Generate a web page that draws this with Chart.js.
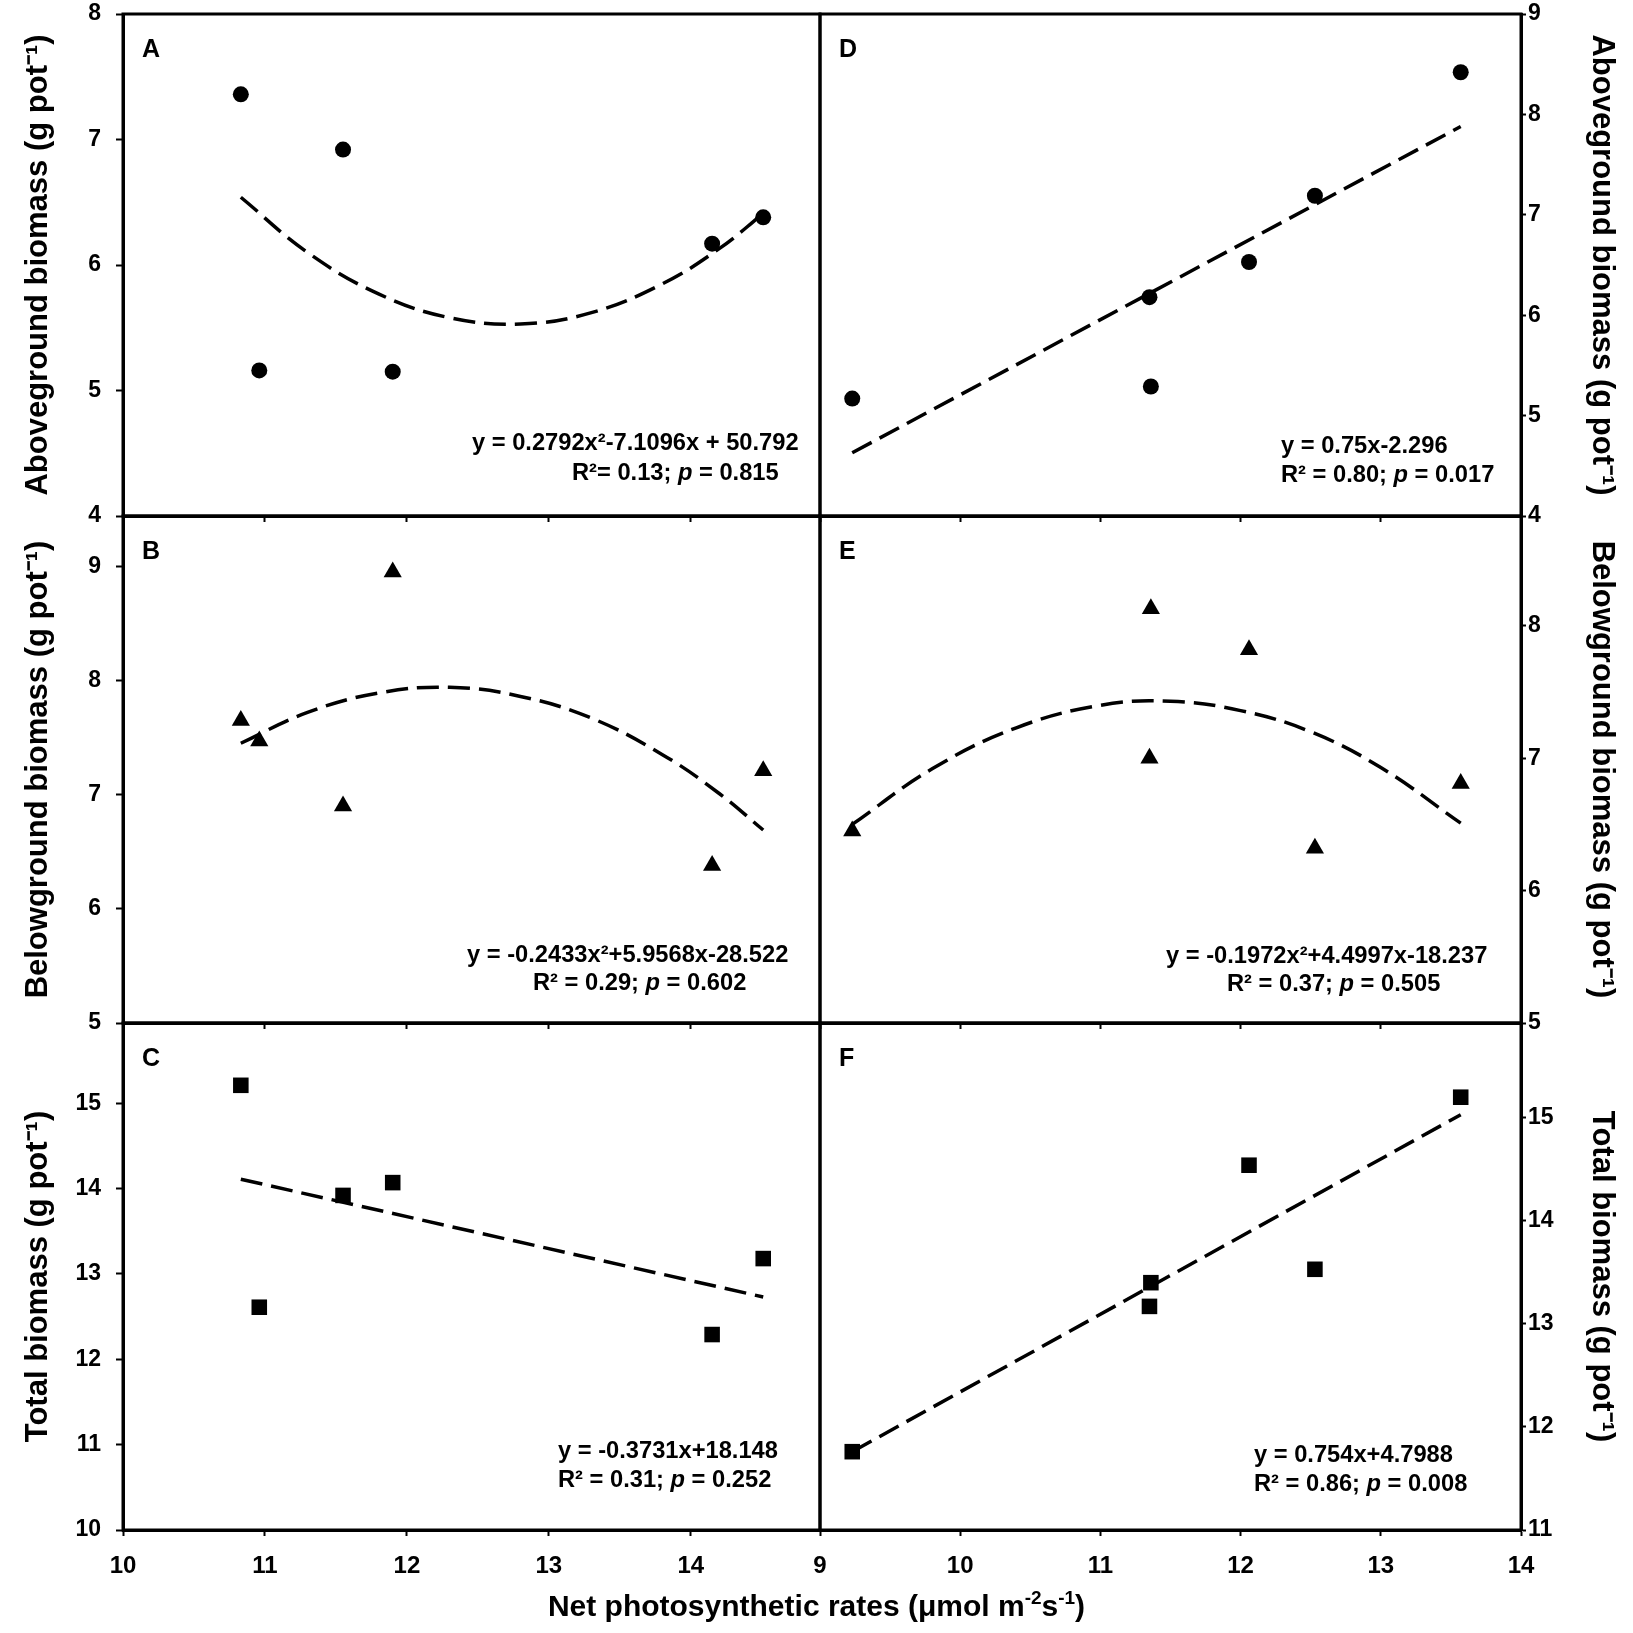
<!DOCTYPE html>
<html>
<head>
<meta charset="utf-8">
<script src="https://cdn.jsdelivr.net/npm/chart.js@4.4.1/dist/chart.umd.min.js"></script>
<style>
html, body { margin: 0; padding: 0; background: #ffffff; }
#wrap { position: relative; width: 1633px; height: 1633px; background: #ffffff; }
#wrap canvas { position: absolute; left: 0; top: 0; }
</style>
</head>
<body>
<div id="wrap">
  <canvas id="cA" width="1633" height="1633"></canvas>
  <canvas id="cB" width="1633" height="1633"></canvas>
  <canvas id="cC" width="1633" height="1633"></canvas>
  <canvas id="cD" width="1633" height="1633"></canvas>
  <canvas id="cE" width="1633" height="1633"></canvas>
  <canvas id="cF" width="1633" height="1633"></canvas>
</div>
<script>
// ---------------- data ----------------
// left column (panels A, B, C): net photosynthetic rate
const xLeft      = [10.83, 10.96, 11.55, 11.90, 14.15, 14.51];
const aboveLeft  = [7.36, 5.16, 6.92, 5.15, 6.17, 6.38];
const belowLeft  = [7.65, 7.47, 6.90, 8.95, 6.38, 7.21];
const totalLeft  = [15.21, 12.61, 13.92, 14.07, 12.29, 13.18];

// right column (panels D, E, F)
const xRight     = [9.23, 11.35, 11.36, 12.06, 12.53, 13.57];
const aboveRight = [5.17, 6.18, 5.29, 6.53, 7.19, 8.42];
const belowRight = [6.45, 7.00, 8.13, 7.82, 6.32, 6.81];
const totalRight = [11.76, 13.17, 13.40, 14.54, 13.53, 15.20];

// dashed regression lines
const fitAX = [10.83, 11.3, 11.8, 12.3, 12.8, 13.3, 13.8, 14.2, 14.51];
const fitAY = [6.54, 6.10, 5.77, 5.58, 5.53, 5.62, 5.85, 6.13, 6.41];
const fitBX = [10.83, 11.3, 11.8, 12.3, 12.8, 13.3, 13.8, 14.2, 14.51];
const fitBY = [7.45, 7.72, 7.89, 7.94, 7.86, 7.67, 7.35, 7.01, 6.69];
const fitCX = [10.83, 14.51];
const fitCY = [14.11, 12.73];
const fitDX = [9.23, 13.57];
const fitDY = [4.63, 7.88];
const fitEX = [9.23, 9.8, 10.4, 11.0, 11.5, 12.0, 12.5, 13.0, 13.57];
const fitEY = [6.50, 6.92, 7.23, 7.40, 7.43, 7.36, 7.20, 6.93, 6.51];
const fitFX = [9.23, 13.57];
const fitFY = [11.76, 15.03];

// axis ranges and tick labels
const xRangeLeft  = [10, 14.91];
const xRangeRight = [9, 14];
const xTicksLeft  = [10, 11, 12, 13, 14];
const xTicksRight = [9, 10, 11, 12, 13, 14];
const yRangeA = [4, 8];      const yTicksA = [4, 5, 6, 7, 8];
const yRangeB = [5, 9.44];   const yTicksB = [5, 6, 7, 8, 9];
const yRangeC = [10, 15.94]; const yTicksC = [10, 11, 12, 13, 14, 15];
const yRangeD = [4, 9];      const yTicksD = [4, 5, 6, 7, 8, 9];
const yRangeE = [5, 8.83];   const yTicksE = [5, 6, 7, 8];
const yRangeF = [11, 15.92]; const yTicksF = [11, 12, 13, 14, 15];

// texts
const titleAbove = 'Aboveground biomass (g pot\u207B\u00B9)';
const titleBelow = 'Belowground biomass (g pot\u207B\u00B9)';
const titleTotal = 'Total biomass (g pot\u207B\u00B9)';
const xTitleParts = ['Net photosynthetic rates (\u03BCmol m', '-2', 's', '-1', ')'];
const eqA = ['y = 0.2792x\u00B2-7.1096x + 50.792', 'R\u00B2= 0.13; ', 'p', ' = 0.815'];
const eqB = ['y = -0.2433x\u00B2+5.9568x-28.522', 'R\u00B2 = 0.29; ', 'p', ' = 0.602'];
const eqC = ['y = -0.3731x+18.148', 'R\u00B2 = 0.31; ', 'p', ' = 0.252'];
const eqD = ['y = 0.75x-2.296', 'R\u00B2 = 0.80; ', 'p', ' = 0.017'];
const eqE = ['y = -0.1972x\u00B2+4.4997x-18.237', 'R\u00B2 = 0.37; ', 'p', ' = 0.505'];
const eqF = ['y = 0.754x+4.7988', 'R\u00B2 = 0.86; ', 'p', ' = 0.008'];

// ---------------- drawing ----------------
const FONT = '"Liberation Sans", Arial, Helvetica, sans-serif';
Chart.defaults.font.family = FONT;
Chart.defaults.color = '#000';

const PAGE = 1633;
const COL_LEFT = 123, COL_MID = 820, COL_RIGHT = 1521;
const ROW_EDGES = [14, 516, 1023, 1530];

const panelText = {
  id: 'panelText',
  afterDatasetsDraw(chart, args, o) {
    const ctx = chart.ctx, a = chart.chartArea;
    ctx.save();
    ctx.lineWidth = 3;
    ctx.strokeStyle = '#000';
    ctx.strokeRect(a.left, a.top, a.right - a.left, a.bottom - a.top);
    ctx.fillStyle = '#000';
    ctx.textAlign = 'left';
    ctx.textBaseline = 'alphabetic';
    ctx.font = 'bold 25px ' + FONT;
    ctx.fillText(o.letter, a.left + 19, a.top + 43);
    // equation line 1
    ctx.font = 'bold 23.7px ' + FONT;
    ctx.fillText(o.eq[0], a.right - o.dx[0], a.bottom - o.dy[0]);
    // equation line 2 (italic p)
    let x = a.right - o.dx[1];
    const y2 = a.bottom - o.dy[1];
    o.eq.slice(1).forEach((t, i) => {
      ctx.font = (i === 1 ? 'italic ' : '') + 'bold 23.7px ' + FONT;
      ctx.fillText(t, x, y2);
      x += ctx.measureText(t).width;
    });
    if (o.xTitle) {
      const big = 'bold 30px ' + FONT, small = 'bold 19px ' + FONT;
      let w = 0;
      xTitleParts.forEach((t, i) => { ctx.font = (i % 2 ? small : big); w += ctx.measureText(t).width; });
      let xx = PAGE / 2 - w / 2;
      const base = 1616;
      xTitleParts.forEach((t, i) => {
        ctx.font = (i % 2 ? small : big);
        ctx.fillText(t, xx, i % 2 ? base - 12 : base);
        xx += ctx.measureText(t).width;
      });
    }
    ctx.restore();
  }
};

function pts(xs, ys) { return xs.map((x, i) => ({ x: x, y: ys[i] })); }
function noPad(s) { s.paddingTop = 0; s.paddingBottom = 0; s.paddingLeft = 0; s.paddingRight = 0; }

function makePanel(id, p) {
  const left = p.side === 'left';
  const bottomRow = p.row === 2;
  const xh = bottomRow ? 80 : 10;
  const top = ROW_EDGES[p.row], bottom = ROW_EDGES[p.row + 1];
  const yWidth = left ? COL_LEFT : PAGE - COL_RIGHT;
  new Chart(document.getElementById(id), {
    type: 'scatter',
    data: {
      datasets: [
        {
          data: pts(p.px, p.py),
          pointStyle: p.marker, pointRadius: p.r, pointHoverRadius: p.r,
          backgroundColor: '#000', borderColor: '#000', borderWidth: 0,
          showLine: false, order: 1
        },
        {
          data: pts(p.fx, p.fy),
          showLine: true, pointRadius: 0, pointHoverRadius: 0,
          borderColor: '#000', borderWidth: 3.5, borderDash: [22, 9],
          tension: p.fx.length > 2 ? 0.4 : 0, fill: false, order: 2
        }
      ]
    },
    options: {
      responsive: false, animation: false, events: [],
      layout: {
        autoPadding: false,
        padding: {
          left: left ? 0 : COL_MID,
          right: left ? PAGE - COL_MID : 0,
          top: top,
          bottom: PAGE - bottom - xh
        }
      },
      plugins: {
        legend: { display: false },
        tooltip: { enabled: false },
        panelText: { letter: p.letter, eq: p.eq, dx: p.dx, dy: p.dy, xTitle: !!p.xTitle }
      },
      scales: {
        x: {
          type: 'linear', position: 'bottom',
          min: p.xr[0], max: p.xr[1],
          afterFit: s => { s.height = xh; noPad(s); },
          afterBuildTicks: s => { s.ticks = p.xt.map(v => ({ value: v })); },
          ticks: { display: bottomRow, color: '#000', padding: 16, autoSkip: false, maxRotation: 0,
                   font: { size: 24, weight: 'bold', family: FONT } },
          grid: { display: true, drawOnChartArea: false, drawTicks: true, tickLength: 6,
                  tickWidth: 2, tickColor: '#000', color: '#000' },
          border: { display: true, color: '#000', width: 3 }
        },
        y: {
          type: 'linear', position: left ? 'left' : 'right',
          min: p.yr[0], max: p.yr[1],
          afterFit: s => { s.width = yWidth; noPad(s); },
          afterBuildTicks: s => { s.ticks = p.yt.map(v => ({ value: v })); },
          ticks: { color: '#000', padding: left ? 15 : 2, autoSkip: false,
                   font: { size: 23, weight: 'bold', family: FONT } },
          grid: { display: true, drawOnChartArea: false, drawTicks: true, tickLength: left ? 7 : 5,
                  tickWidth: 2, tickColor: '#000', color: '#000' },
          border: { display: true, color: '#000', width: 3 },
          title: { display: true, text: p.title, color: '#000',
                   font: { size: 31, weight: 'bold', family: FONT },
                   padding: { top: left ? 20 : 13, bottom: 0 } }
        }
      }
    },
    plugins: [panelText]
  });
}

makePanel('cA', { side: 'left', row: 0, letter: 'A', px: xLeft, py: aboveLeft, fx: fitAX, fy: fitAY,
  marker: 'circle', r: 8, xr: xRangeLeft, xt: xTicksLeft, yr: yRangeA, yt: yTicksA, title: titleAbove,
  eq: eqA, dx: [348, 248], dy: [66, 36] });
makePanel('cB', { side: 'left', row: 1, letter: 'B', px: xLeft, py: belowLeft, fx: fitBX, fy: fitBY,
  marker: 'triangle', r: 10.5, xr: xRangeLeft, xt: xTicksLeft, yr: yRangeB, yt: yTicksB, title: titleBelow,
  eq: eqB, dx: [353, 287], dy: [61, 33] });
makePanel('cC', { side: 'left', row: 2, letter: 'C', px: xLeft, py: totalLeft, fx: fitCX, fy: fitCY,
  marker: 'rect', r: 11, xr: xRangeLeft, xt: xTicksLeft, yr: yRangeC, yt: yTicksC, title: titleTotal,
  eq: eqC, dx: [262, 262], dy: [72, 43], xTitle: true });
makePanel('cD', { side: 'right', row: 0, letter: 'D', px: xRight, py: aboveRight, fx: fitDX, fy: fitDY,
  marker: 'circle', r: 8, xr: xRangeRight, xt: xTicksRight, yr: yRangeD, yt: yTicksD, title: titleAbove,
  eq: eqD, dx: [240, 240], dy: [63, 34] });
makePanel('cE', { side: 'right', row: 1, letter: 'E', px: xRight, py: belowRight, fx: fitEX, fy: fitEY,
  marker: 'triangle', r: 10.5, xr: xRangeRight, xt: xTicksRight, yr: yRangeE, yt: yTicksE, title: titleBelow,
  eq: eqE, dx: [355, 294], dy: [60, 32] });
makePanel('cF', { side: 'right', row: 2, letter: 'F', px: xRight, py: totalRight, fx: fitFX, fy: fitFY,
  marker: 'rect', r: 11, xr: xRangeRight, xt: xTicksRight, yr: yRangeF, yt: yTicksF, title: titleTotal,
  eq: eqF, dx: [267, 267], dy: [68, 39] });
</script>
</body>
</html>
